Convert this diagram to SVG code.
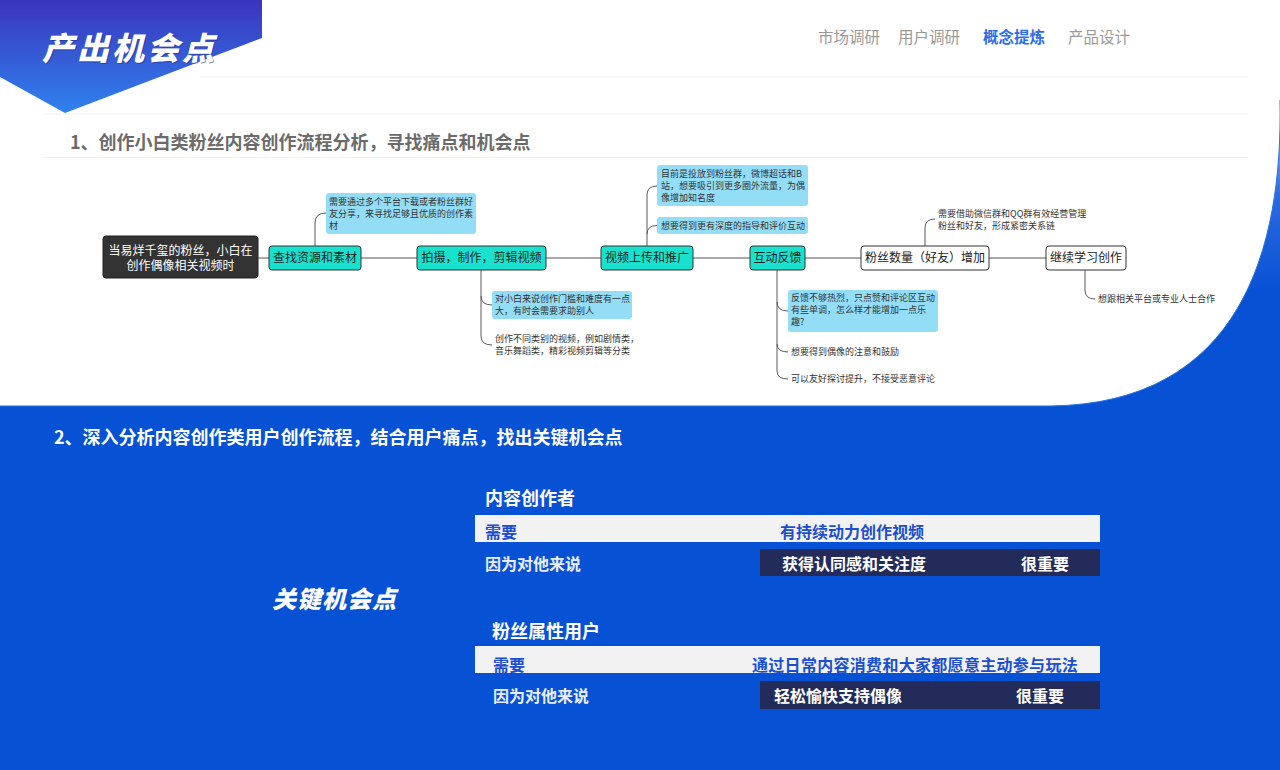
<svg xmlns="http://www.w3.org/2000/svg" width="1280" height="770" viewBox="0 0 1280 770">
<defs>
<linearGradient id="banner" x1="0" y1="0" x2="0" y2="1">
<stop offset="0" stop-color="#3b34bd"/>
<stop offset="1" stop-color="#2f82ee"/>
</linearGradient>
<linearGradient id="bluebg" gradientUnits="userSpaceOnUse" x1="0" y1="100" x2="0" y2="290">
<stop offset="0" stop-color="#b9d0fa"/>
<stop offset="0.5" stop-color="#2d6ae0"/>
<stop offset="1" stop-color="#0752d4"/>
</linearGradient>
<style>
.cjk{font-family:"Noto Sans CJK SC","Noto Sans",sans-serif}
.nav{font-size:15.5px;fill:#999}
.hr{stroke:#f2f2f2;stroke-width:1.2}
.node{fill:#18e2cd;stroke:#333;stroke-width:1}
.wnode{fill:#fff;stroke:#333;stroke-width:1}
.ntext{font-size:12px;fill:#222}
.call{fill:#93ddf7}
.ctext{font-size:9px;fill:#333}
.conn{fill:none;stroke:#5a5a5a;stroke-width:1}
.h2{font-size:18px;font-weight:bold}
.lt{fill:#f2f2f2}
.dk{fill:#222b59}
.b16{font-size:16px;font-weight:bold}
.blue{fill:#1b4fcf}
.wht{fill:#fff}
.pale{fill:#e8eeff}
</style>
</defs>
<rect x="0" y="0" width="1280" height="770" fill="#fff"/>
<path d="M0,406 L1050,406 C1240,404 1283,250 1280,100 L1280,770 L0,770 Z" fill="url(#bluebg)"/>
<rect x="0" y="406" width="1280" height="364" fill="#0752d4"/>
<path d="M0,406 L1050,406 C1240,404 1283,250 1280,100" fill="none" stroke="#2a6fe0" stroke-width="1"/>

<g id="header">
<polygon points="0,0 262,0 262,38 65,113 0,77" fill="url(#banner)"/>
<text x="43" y="61" class="cjk" font-size="32" font-weight="900" font-style="italic" letter-spacing="3" fill="#1f2a80" opacity="0.5">产出机会点</text>
<text x="42" y="60" class="cjk" font-size="32" font-weight="900" font-style="italic" letter-spacing="3" fill="#fff">产出机会点</text>
</g>

<g id="nav" class="cjk">
<text x="818" y="43" class="nav">市场调研</text>
<text x="898" y="43" class="nav">用户调研</text>
<text x="983" y="43" font-size="15.5" font-weight="bold" fill="#2b6de6">概念提炼</text>
<text x="1068" y="43" class="nav">产品设计</text>
</g>

<g id="rules">
<line x1="200" y1="77" x2="1248" y2="77" class="hr"/>
<line x1="43" y1="114" x2="1248" y2="114" class="hr"/>
<line x1="43" y1="157.5" x2="1248" y2="157.5" class="hr"/>
</g>

<g id="heading1"><text x="70" y="149" class="cjk h2" fill="#6b6b6b">1、创作小白类粉丝内容创作流程分析，寻找痛点和机会点</text></g>

<g id="connectors">
<line x1="258" y1="258" x2="1046" y2="258" stroke="#555" stroke-width="1"/>
<path class="conn" d="M315,246 V223 Q315,213 326,213"/>
<path class="conn" d="M481,270 V296 Q481,305 492,305 M481,296 V336 Q481,345 492,345"/>
<path class="conn" d="M647,246 V234 Q647,225.5 657,225.5 M647,234 V195 Q647,186 657,186"/>
<path class="conn" d="M777,270 V302 Q777,311 788,311 M777,302 V344 Q777,352 788,352 M777,344 V371 Q777,379 788,379"/>
<path class="conn" d="M925,246 V228 Q925,219 935,219"/>
<path class="conn" d="M1085,270 V290 Q1085,299 1095,299"/>
</g>

<g id="root">
<rect x="103" y="236" width="155" height="42" rx="3" fill="#333" stroke="#222"/>
<text x="180.5" y="255" class="cjk" font-size="12" fill="#fff" text-anchor="middle">当易烊千玺的粉丝，小白在</text>
<text x="180.5" y="270" class="cjk" font-size="12" fill="#fff" text-anchor="middle">创作偶像相关视频时</text>
</g>

<g id="node1">
<rect x="269" y="246" width="92" height="24" rx="3" class="node"/>
<text x="315" y="262.2" class="cjk ntext" text-anchor="middle">查找资源和素材</text>
</g>
<g id="callout1">
<rect x="326" y="193" width="150" height="41" rx="3" class="call"/>
<text x="329" y="205.2" class="cjk ctext">需要通过多个平台下载或者粉丝群好</text>
<text x="329" y="217.2" class="cjk ctext">友分享，来寻找足够且优质的创作素</text>
<text x="329" y="229.2" class="cjk ctext">材</text>
</g>

<g id="node2">
<rect x="417" y="246" width="129" height="24" rx="3" class="node"/>
<text x="481.5" y="262.2" class="cjk ntext" text-anchor="middle">拍摄，制作，剪辑视频</text>
</g>
<g id="callout2">
<rect x="492" y="291" width="140" height="28" rx="3" class="call"/>
<text x="495" y="301.6" class="cjk ctext">对小白来说创作门槛和难度有一点</text>
<text x="495" y="314" class="cjk ctext">大，有时会需要求助别人</text>
</g>
<g id="note2">
<text x="495" y="342.2" class="cjk ctext">创作不同类别的视频，例如剧情类，</text>
<text x="495" y="354.2" class="cjk ctext">音乐舞蹈类，精彩视频剪辑等分类</text>
</g>

<g id="node3">
<rect x="601" y="246" width="92" height="24" rx="3" class="node"/>
<text x="647" y="262.2" class="cjk ntext" text-anchor="middle">视频上传和推广</text>
</g>
<g id="callout3a">
<rect x="657" y="165" width="151" height="41" rx="3" class="call"/>
<text x="661" y="177.2" class="cjk ctext">目前是投放到粉丝群，微博超话和B</text>
<text x="661" y="189.2" class="cjk ctext">站，想要吸引到更多圈外流量，为偶</text>
<text x="661" y="200.7" class="cjk ctext">像增加知名度</text>
</g>
<g id="callout3b">
<rect x="657" y="217" width="151" height="17" rx="3" class="call"/>
<text x="661" y="228.7" class="cjk ctext">想要得到更有深度的指导和评价互动</text>
</g>

<g id="node4">
<rect x="750" y="246" width="55" height="24" rx="3" class="node"/>
<text x="777.5" y="262.2" class="cjk ntext" text-anchor="middle">互动反馈</text>
</g>
<g id="callout4">
<rect x="788" y="290" width="150" height="42" rx="3" class="call"/>
<text x="791" y="301.2" class="cjk ctext">反馈不够热烈，只点赞和评论区互动</text>
<text x="791" y="313.2" class="cjk ctext">有些单调，怎么样才能增加一点乐</text>
<text x="791" y="325.2" class="cjk ctext">趣?</text>
</g>
<g id="note4a"><text x="791" y="355.2" class="cjk ctext">想要得到偶像的注意和鼓励</text></g>
<g id="note4b"><text x="791" y="382.2" class="cjk ctext">可以友好探讨提升，不接受恶意评论</text></g>

<g id="node5">
<rect x="861" y="246" width="128" height="24" rx="3" class="wnode"/>
<text x="925" y="262.2" class="cjk ntext" text-anchor="middle">粉丝数量（好友）增加</text>
</g>
<g id="note5">
<text x="938" y="217.2" class="cjk ctext">需要借助微信群和QQ群有效经营管理</text>
<text x="938" y="228.6" class="cjk ctext">粉丝和好友，形成紧密关系链</text>
</g>

<g id="node6">
<rect x="1046" y="246" width="80" height="24" rx="3" class="wnode"/>
<text x="1086" y="262.2" class="cjk ntext" text-anchor="middle">继续学习创作</text>
</g>
<g id="note6"><text x="1098" y="302.2" class="cjk ctext">想跟相关平台或专业人士合作</text></g>

<g id="heading2"><text x="54" y="444" class="cjk h2" fill="#fff">2、深入分析内容创作类用户创作流程，结合用户痛点，找出关键机会点</text></g>

<g id="key"><text x="272" y="608" class="cjk" font-size="24" font-weight="900" font-style="italic" letter-spacing="1" fill="#fff">关键机会点</text></g>

<g id="creator">
<text x="485" y="505" class="cjk wht" font-size="18" font-weight="bold">内容创作者</text>
<rect x="475" y="515" width="625" height="27" class="lt"/>
<text x="485" y="537.5" class="cjk b16 blue">需要</text>
<text x="780" y="537.5" class="cjk b16 blue">有持续动力创作视频</text>
<text x="485" y="569.5" class="cjk b16 pale">因为对他来说</text>
<rect x="760" y="549" width="340" height="27" class="dk"/>
<text x="782" y="569.5" class="cjk b16 wht">获得认同感和关注度</text>
<text x="1021" y="569.5" class="cjk b16 wht">很重要</text>
</g>

<g id="fan">
<text x="492" y="638" class="cjk wht" font-size="18" font-weight="bold">粉丝属性用户</text>
<rect x="475" y="646" width="625" height="27" class="lt"/>
<text x="493" y="670.5" class="cjk b16 blue">需要</text>
<text x="752" y="670.5" class="cjk b16 blue" letter-spacing="0.3">通过日常内容消费和大家都愿意主动参与玩法</text>
<text x="493" y="701.5" class="cjk b16 pale">因为对他来说</text>
<rect x="760" y="681" width="340" height="28" class="dk"/>
<text x="774" y="701.5" class="cjk b16 wht">轻松愉快支持偶像</text>
<text x="1016" y="701.5" class="cjk b16 wht">很重要</text>
</g>
</svg>
